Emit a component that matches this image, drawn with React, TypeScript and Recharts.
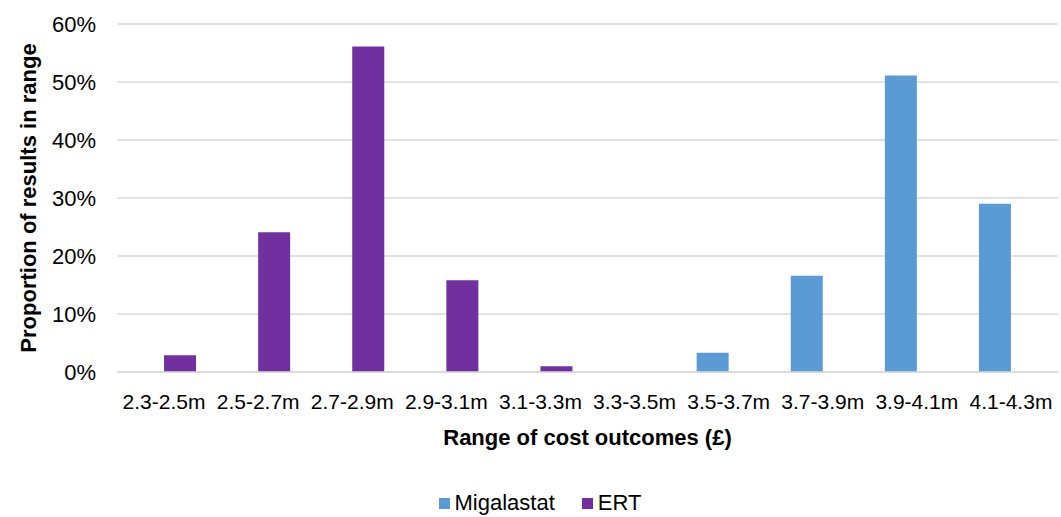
import React from 'react';
import { BarChart, Bar, XAxis, YAxis, CartesianGrid, Legend } from 'recharts';

const categories = [
  '2.3-2.5m', '2.5-2.7m', '2.7-2.9m', '2.9-3.1m', '3.1-3.3m',
  '3.3-3.5m', '3.5-3.7m', '3.7-3.9m', '3.9-4.1m', '4.1-4.3m',
];
// proportion of results in range (%), null = no bar
const migalastat = [null, null, null, null, null, null, 3.3, 16.6, 51.1, 29.0];
const ert = [2.9, 24.1, 56.1, 15.8, 1.0, null, null, null, null, null];
const yTicks = [0, 10, 20, 30, 40, 50, 60];

const MIG_COLOR = '#5B9BD5';
const ERT_COLOR = '#7030A0';
const FONT = '"Liberation Sans", Arial, sans-serif';

const data = categories.map((name, i) => ({
  name,
  Migalastat: migalastat[i],
  ERT: ert[i],
}));

const YTitle = (props: any) => {
  const vb = props.viewBox || {};
  const cy = vb.y + vb.height / 2;
  return (
    <text x={28} y={cy} transform={`rotate(-90, 28, ${cy})`} textAnchor="middle"
      dominantBaseline="central" fontFamily={FONT} fontSize={22} fontWeight="bold" fill="#000">
      Proportion of results in range
    </text>
  );
};

const XTitle = (props: any) => {
  const vb = props.viewBox || {};
  return (
    <text x={vb.x + vb.width / 2} y={445} textAnchor="middle"
      fontFamily={FONT} fontSize={22} fontWeight="bold" fill="#000">
      Range of cost outcomes (£)
    </text>
  );
};

const LegendBox = () => (
  <div style={{
    height: 70, display: 'flex', alignItems: 'flex-end', justifyContent: 'center',
    fontFamily: FONT, fontSize: 22, color: '#000', paddingBottom: 3, paddingLeft: 22,
    boxSizing: 'border-box',
  }}>
    {[['Migalastat', MIG_COLOR], ['ERT', ERT_COLOR]].map(([label, color], i) => (
      <span key={label} style={{ display: 'flex', alignItems: 'center', marginLeft: i ? 27 : 0, lineHeight: '22px' }}>
        <span style={{ width: 11, height: 11, background: color, display: 'inline-block', marginRight: 5 }} />
        {label}
      </span>
    ))}
  </div>
);

export default function App() {
  return (
    <div style={{ position: 'absolute', left: 0, top: 0, width: 1061, height: 517, background: '#fff' }}>
      <BarChart width={1061} height={517} data={data}
        margin={{ top: 24, right: 3, left: 0, bottom: 0 }}
        barCategoryGap="16%" barGap={0}>
        <CartesianGrid vertical={false} stroke="#D9D9D9" strokeWidth={1.5} />
        <XAxis dataKey="name" height={75} interval={0} tickSize={0} tickMargin={22}
          axisLine={{ stroke: '#D9D9D9', strokeWidth: 1.5 }} tickLine={false}
          tick={{ fontFamily: FONT, fontSize: 21, fill: '#000' }}
          label={<XTitle />} />
        <YAxis width={117} domain={[0, 60]} ticks={yTicks} interval={0}
          tickFormatter={(v: number) => `${v}%`} tickSize={0} tickMargin={21}
          axisLine={false} tickLine={false}
          tick={{ fontFamily: FONT, fontSize: 22, fill: '#000' }}
          label={<YTitle />} />
        <Legend verticalAlign="bottom" content={<LegendBox />} />
        <Bar dataKey="Migalastat" fill={MIG_COLOR} isAnimationActive={false} />
        <Bar dataKey="ERT" fill={ERT_COLOR} isAnimationActive={false} />
      </BarChart>
    </div>
  );
}
